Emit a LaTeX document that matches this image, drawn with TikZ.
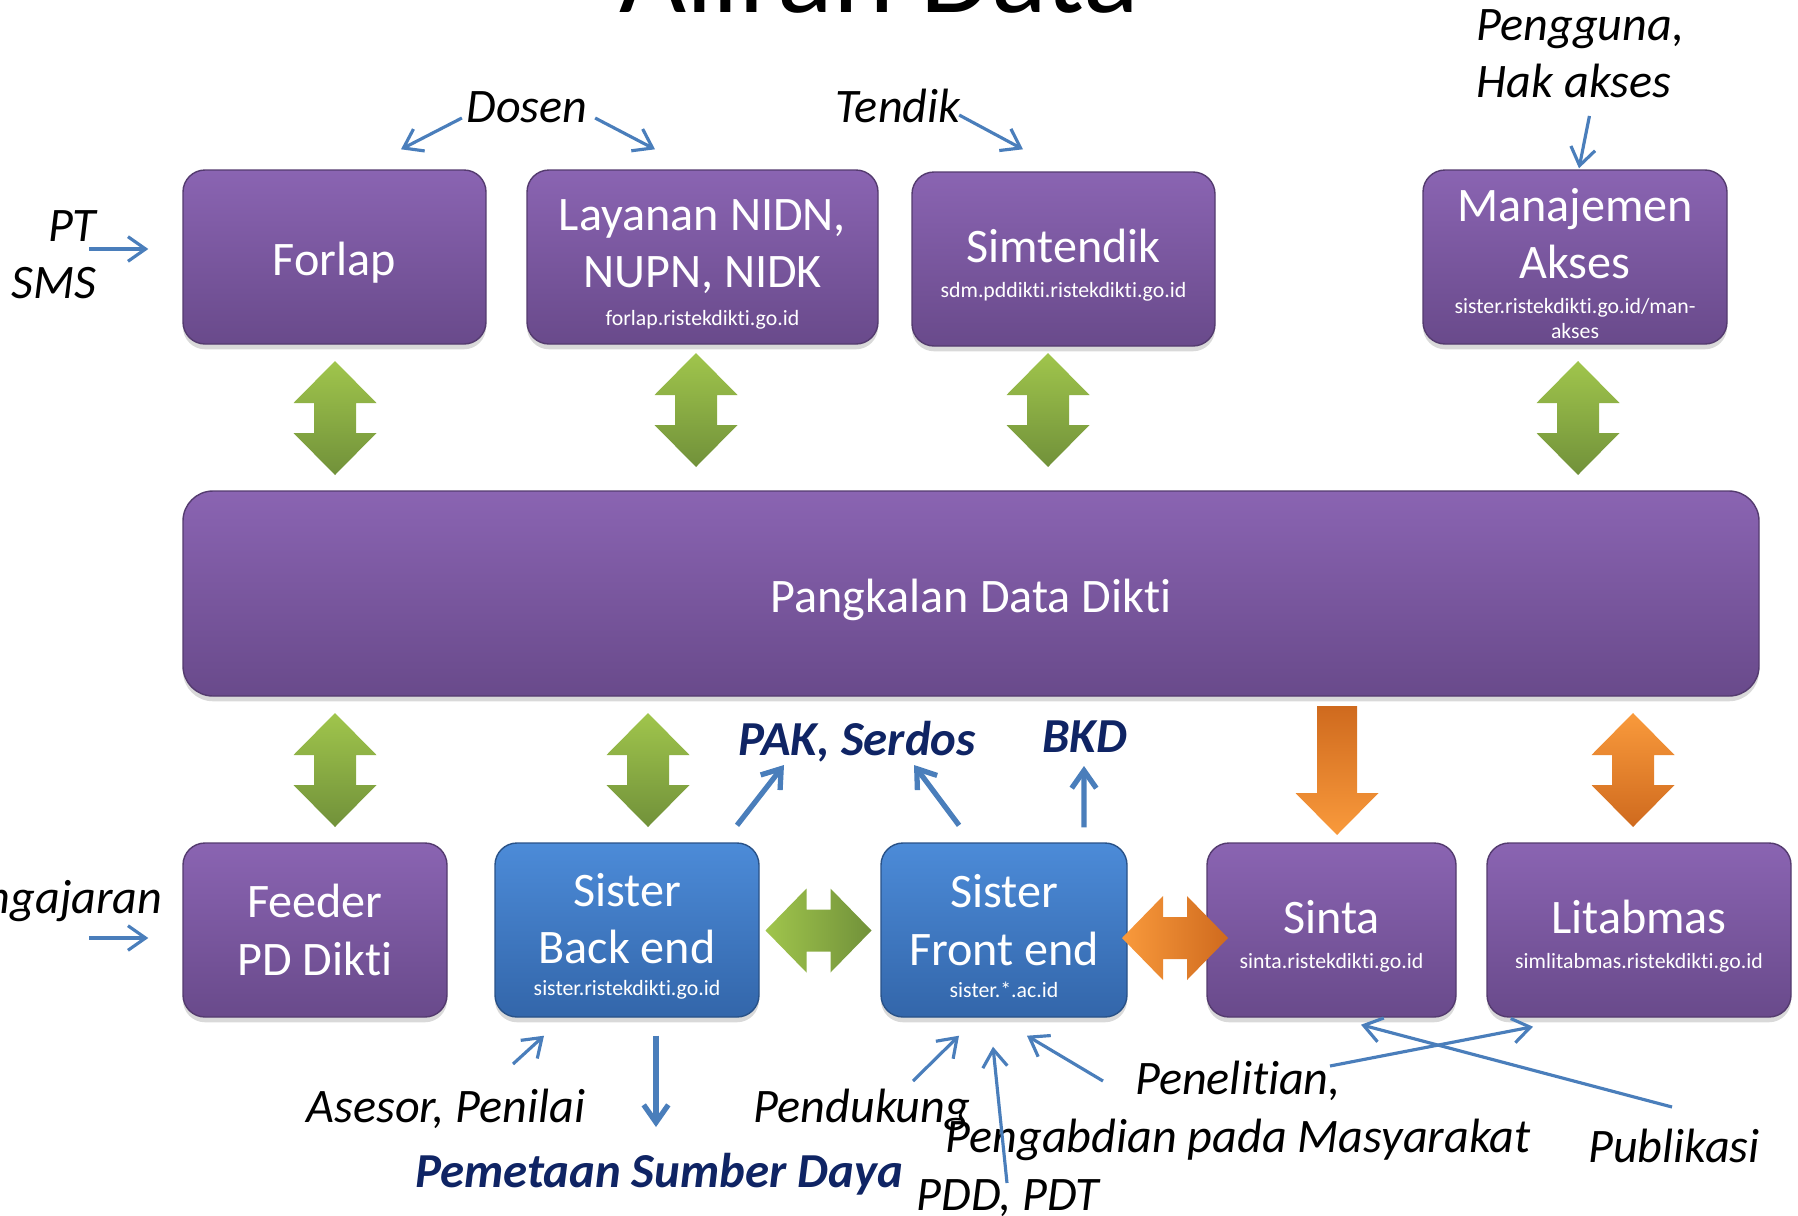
\documentclass[tikz,border=0pt]{standalone}
\usepackage{fontspec}
\setmainfont{Carlito}[Ligatures=NoCommon]
\usetikzlibrary{arrows.meta,shadows}

\definecolor{purtop}{HTML}{8A64B2}
\definecolor{purbot}{HTML}{694A8B}
\definecolor{blutop}{HTML}{4C8BD8}
\definecolor{blubot}{HTML}{3366AA}
\definecolor{grntop}{HTML}{A0C54C}
\definecolor{grnbot}{HTML}{71913A}
\definecolor{orglight}{HTML}{F99A3C}
\definecolor{orgdark}{HTML}{CF6A1E}
\definecolor{linkblue}{HTML}{4A7EBB}
\definecolor{navy}{HTML}{0F2464}

\newcommand{\boxfont}{\fontsize{13.7}{16.3}\selectfont}
\newcommand{\boxstrut}{\rule{0pt}{13pt}}
\newcommand{\site}[1]{{\fontsize{6.2}{7.4}\selectfont #1}}

\tikzset{
  box/.style={rounded corners=0.22cm, minimum height=1.74cm, inner ysep=0pt,
    text=white, align=center, font=\boxfont, line width=0.4pt,
    drop shadow={shadow xshift=0pt, shadow yshift=-1.5pt, opacity=0.3}},
  pbox/.style={box, draw=purbot!80!black, top color=purtop, bottom color=purbot},
  bbox/.style={box, draw=blubot!80!black, top color=blutop, bottom color=blubot},
  lbl/.style={font=\boxfont\itshape, inner sep=0pt},
  result/.style={font=\fontsize{13.9}{16.3}\selectfont\bfseries\itshape, text=navy, inner sep=0pt},
  link/.style={draw=linkblue, line width=0.9pt, -{Straight Barb[length=5pt,width=7pt]}},
  thicklink/.style={link, line width=1.5pt},
  greenv/.style={top color=grntop, bottom color=grnbot},
  greenh/.style={left color=grntop, right color=grnbot},
  orangev/.style={top color=orglight, bottom color=orgdark},
  orangedown/.style={top color=orgdark, bottom color=orglight},
  orangeh/.style={left color=orglight, right color=orgdark},
  vdbl/.pic={\path[#1] (0,0.57) -- (0.415,0.15) -- (0.21,0.15) -- (0.21,-0.15)
    -- (0.415,-0.15) -- (0,-0.57) -- (-0.415,-0.15) -- (-0.21,-0.15)
    -- (-0.21,0.15) -- (-0.415,0.15) -- cycle;},
  hdbl/.pic={\path[#1] (-0.53,0) -- (-0.12,0.42) -- (-0.12,0.21) -- (0.12,0.21)
    -- (0.12,0.42) -- (0.53,0) -- (0.12,-0.42) -- (0.12,-0.21)
    -- (-0.12,-0.21) -- (-0.12,-0.42) -- cycle;},
}

\begin{document}
\begin{tikzpicture}
  \useasboundingbox (0,0) rectangle (17.98,-12.15);

  % Title (cut off at the top)
  \node[font=\fontsize{33}{40}\selectfont, anchor=base] (title) at (8.79,-0.12) {Aliran Data};

  % Top row
  \node[pbox, minimum width=3.03cm] (forlap) at (3.345,-2.57) {\boxstrut Forlap};
  \node[pbox, minimum width=3.51cm] (nidn) at (7.025,-2.57) {\boxstrut Layanan NIDN,\\NUPN, NIDK\\[-5.5pt]\site{forlap.ristekdikti.go.id}};
  \node[pbox, minimum width=3.03cm] (simtendik) at (10.635,-2.59) {\boxstrut Simtendik\\[-6.5pt]\site{sdm.pddikti.ristekdikti.go.id}};
  \node[pbox, minimum width=3.04cm] (akses) at (15.75,-2.57) {\boxstrut Manajemen\\Akses\\[-6.3pt]\site{sister.ristekdikti.go.id/man-}\\[-9.2pt]\site{akses}};

  % Middle
  \node[pbox, minimum width=15.76cm, minimum height=2.05cm, rounded corners=0.3cm] (pddikti) at (9.71,-5.935) {\boxstrut Pangkalan Data Dikti};

  % Bottom row
  \node[pbox, minimum width=2.64cm] (feeder) at (3.15,-9.30) {Feeder\\PD Dikti};
  \node[bbox, minimum width=2.64cm] (backend) at (6.27,-9.30) {\boxstrut Sister\\Back end\\[-7pt]\site{sister.ristekdikti.go.id}};
  \node[bbox, minimum width=2.46cm] (frontend) at (10.04,-9.30) {\boxstrut Sister\\Front end\\[-7pt]\site{sister.*.ac.id}};
  \node[pbox, minimum width=2.49cm] (sinta) at (13.315,-9.30) {\boxstrut Sinta\\[-6.2pt]\site{sinta.ristekdikti.go.id}};
  \node[pbox, minimum width=3.04cm] (litabmas) at (16.39,-9.30) {\boxstrut Litabmas\\[-6.2pt]\site{simlitabmas.ristekdikti.go.id}};

  % Block arrows
  \pic at (3.35,-4.18) {vdbl=greenv};
  \pic at (6.96,-4.10) {vdbl=greenv};
  \pic at (10.48,-4.10) {vdbl=greenv};
  \pic at (15.78,-4.18) {vdbl=greenv};
  \pic at (3.35,-7.70) {vdbl=greenv};
  \pic at (6.48,-7.70) {vdbl=greenv};
  \pic at (16.33,-7.70) {vdbl=orangev};
  \pic at (8.185,-9.305) {hdbl=greenh};
  \pic at (11.75,-9.38) {hdbl=orangeh};
  \path[orangedown] (13.17,-7.06) -- (13.57,-7.06) -- (13.57,-7.93) -- (13.785,-7.93)
    -- (13.37,-8.35) -- (12.955,-7.93) -- (13.17,-7.93) -- cycle;

  % Labels
  \node[lbl, anchor=east, align=right] (ptsms) at (0.97,-2.545) {PT\\SMS};
  \node[lbl, anchor=base] (dosen) at (5.27,-1.22) {Dosen};
  \node[lbl, anchor=base] (tendik) at (8.98,-1.22) {Tendik};
  \node[lbl, anchor=west, align=left] (usr) at (14.76,-0.54) {Pengguna,\\Hak akses};
  \node[lbl, anchor=base east] (ajar) at (1.63,-9.13) {Pengajaran};
  \node[result, anchor=base] (pak) at (8.57,-7.55) {PAK, Serdos};
  \node[result, anchor=base] (bkd) at (10.85,-7.52) {BKD};
  \node[lbl, anchor=base] (asesor) at (4.46,-11.22) {Asesor, Penilai};
  \node[result, anchor=base] (peta) at (6.59,-11.87) {Pemetaan Sumber Daya};
  \node[lbl, anchor=base] (dukung) at (8.62,-11.22) {Pendukung};
  \node[lbl, anchor=base] (pdd) at (10.08,-12.10) {PDD, PDT};
  \node[lbl, align=center] (penel) at (12.38,-11.11) {Penelitian,\\Pengabdian pada Masyarakat};
  \node[lbl, anchor=base] (publik) at (16.74,-11.62) {Publikasi};

  % Top connectors
  \draw[link] ([shift={(-0.08,0.055)}]ptsms.east) -- ([shift={(-0.34,0.08)}]forlap.west);
  \draw[link] ([shift={(-0.04,0.04)}]dosen.base west) -- ([shift={(0.665,0.2)}]forlap.north);
  \draw[link] ([shift={(0.07,0.04)}]dosen.base east) -- ([shift={(-0.475,0.2)}]nidn.north);
  \draw[link] ([shift={(-0.02,0.07)}]tendik.base east) -- ([shift={(-0.405,0.22)}]simtendik.north);
  \draw[link] ([shift={(0.09,-0.17)}]usr.south) -- ([shift={(0.04,0.01)}]akses.north);
  \draw[link] ([shift={(-0.74,-0.25)}]ajar.base east) -- ([shift={(-0.34,-0.08)}]feeder.west);

  % Outputs
  \draw[thicklink] ([shift={(1.1,0.17)}]backend.north) -- ([shift={(-0.73,-0.1)}]pak.base);
  \draw[thicklink] ([shift={(-0.45,0.17)}]frontend.north) -- ([shift={(0.57,-0.1)}]pak.base);
  \draw[thicklink] ([shift={(0.8,0.15)}]frontend.north) -- ([shift={(-0.01,-0.14)}]bkd.base);
  \draw[thicklink] ([shift={(0.29,-0.18)}]backend.south) -- ([shift={(-0.03,0.6)}]peta.base);

  % Bottom connectors
  \draw[link] ([shift={(0.67,0.58)}]asesor.base) -- ([shift={(-0.83,-0.18)}]backend.south);
  \draw[link] ([shift={(0.51,0.41)}]dukung.base) -- ([shift={(-0.45,-0.18)}]frontend.south);
  \draw[link] ([shift={(-0.01,0.27)}]pdd.base) -- ([shift={(-0.11,-0.29)}]frontend.south);
  \draw[link] ([shift={(-1.35,0.3)}]penel.center) -- ([shift={(0.23,-0.18)}]frontend.south);
  \draw[link] ([shift={(0.92,0.45)}]penel.center) -- ([shift={(-1.06,-0.09)}]litabmas.south);
  \draw[link] ([shift={(-0.02,0.55)}]publik.base) -- ([shift={(0.295,-0.07)}]sinta.south);
\end{tikzpicture}
\end{document}
